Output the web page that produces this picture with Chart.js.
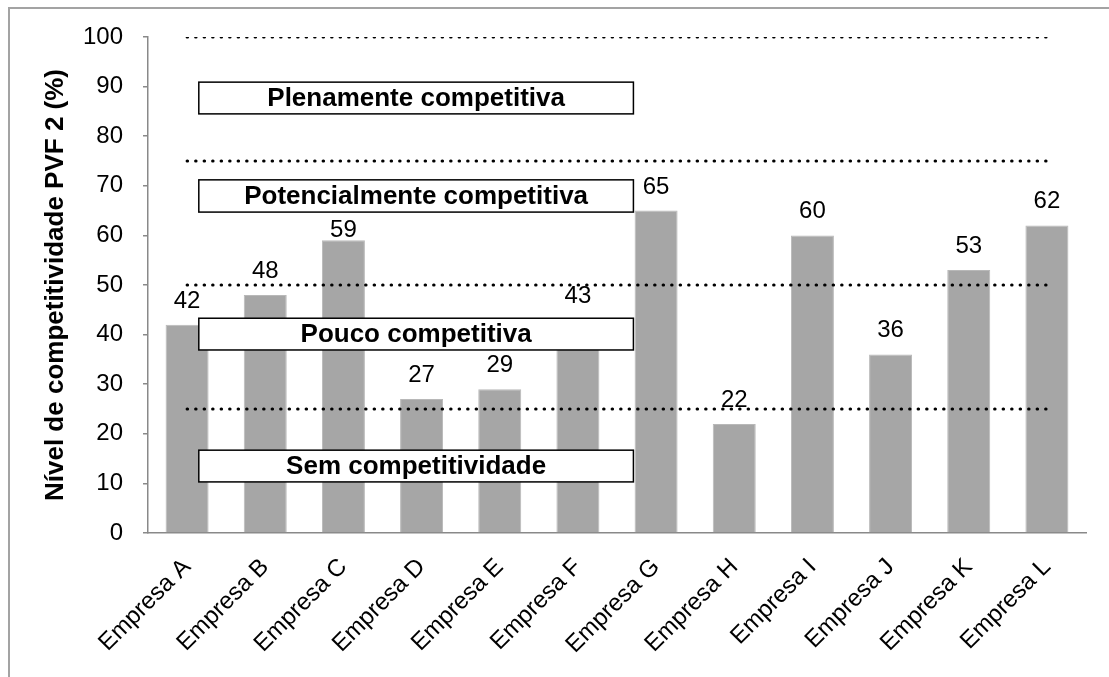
<!DOCTYPE html>
<html>
<head>
<meta charset="utf-8">
<script src="https://cdn.jsdelivr.net/npm/chart.js@4/dist/chart.umd.min.js"></script>
<style>
  html, body { margin: 0; padding: 0; background: #fff; overflow: hidden; }
  .wrap { position: relative; width: 1109px; height: 677px; }
  .frame { position: absolute; left: 8px; top: 7px; right: -20px; bottom: -20px;
           border-left: 2px solid #a3a3a3; border-top: 2px solid #a3a3a3; }
  canvas { position: absolute; left: 0; top: 0; }
</style>
</head>
<body>
<div class="wrap">
  <div class="frame"></div>
  <canvas class="js-graph" width="1109" height="677"></canvas>
</div>
<script>
{
    const empresas = ['Empresa A', 'Empresa B', 'Empresa C', 'Empresa D', 'Empresa E', 'Empresa F',
                      'Empresa G', 'Empresa H', 'Empresa I', 'Empresa J', 'Empresa K', 'Empresa L'];
    const nivel = [42, 48, 59, 27, 29, 43, 65, 22, 60, 36, 53, 62];
    const limites = [25, 50, 75, 100];
    const faixas = ['Sem competitividade', 'Pouco competitiva', 'Potencialmente competitiva', 'Plenamente competitiva'];

    const font_base = 'Liberation Sans, Arial, sans-serif';

    // caixas de texto das faixas, em unidades do gráfico (índice da categoria, %)
    const caixas_faixas = {
        id: 'caixas_faixas',
        afterDatasetsDraw(chart, args, opts) {
            const { ctx, scales: { x, y } } = chart;
            const step = x.getPixelForValue(1) - x.getPixelForValue(0);
            const px = (i) => x.getPixelForValue(0) + i * step;
            const rects = [];

            ctx.save();
            faixas.forEach((texto, k) => {
                const [y0, y1] = opts.alturas[k];
                const left = px(opts.de), right = px(opts.ate);
                const top = y.getPixelForValue(y1), bottom = y.getPixelForValue(y0);
                ctx.fillStyle = '#fff';
                ctx.fillRect(left, top, right - left, bottom - top);
                ctx.strokeStyle = '#000';
                ctx.lineWidth = 1.5;
                ctx.strokeRect(left, top, right - left, bottom - top);
                ctx.fillStyle = '#000';
                ctx.font = `bold 26px ${font_base}`;
                ctx.textAlign = 'center';
                ctx.textBaseline = 'middle';
                ctx.fillText(texto, (left + right) / 2, (top + bottom) / 2 + 1);
                rects.push({ left, right, top, bottom });
            });

            // rótulos dos valores acima das barras
            const meta = chart.getDatasetMeta(chart.data.datasets.findIndex(d => d.type === 'bar'));
            ctx.font = `24px ${font_base}`;
            ctx.textAlign = 'center';
            ctx.textBaseline = 'alphabetic';
            meta.data.forEach((bar, i) => {
                const txt = String(nivel[i]);
                const w = ctx.measureText(txt).width;
                let base = bar.y - 17;
                const bate = rects.some(r => bar.x + w / 2 > r.left && bar.x - w / 2 < r.right &&
                                             base > r.top && base - 18 < r.bottom);
                if (bate) base = bar.y - 3;
                ctx.fillText(txt, bar.x, base);
            });
            ctx.restore();
        }
    };

    const linhas = limites.map((v) => ({
        type: 'line',
        data: [{ x: empresas[0], y: v }, { x: empresas[empresas.length - 1], y: v }],
        borderColor: '#000',
        borderWidth: 3,
        borderDash: [0.5, 8],
        borderCapStyle: 'round',
        pointRadius: 0,
        fill: false,
        order: 0,
    }));

    const draw_chart = () => {
        const ctx = document.querySelector('.js-graph').getContext('2d');

        new Chart(ctx, {
            type: 'bar',
            data: {
                labels: empresas,
                datasets: [
                    ...linhas,
                    {
                        type: 'bar',
                        data: nivel,
                        backgroundColor: '#a6a6a6',
                        borderColor: '#b8b8b8',
                        borderWidth: 1,
                        barPercentage: 0.55,
                        categoryPercentage: 1,
                        order: 1,
                    }
                ]
            },
            options: {
                responsive: false,
                animation: false,
                layout: { padding: { top: 37, right: 23, left: 0, bottom: 0 } },
                scales: {
                    x: {
                        offset: true,
                        grid: { display: false },
                        border: { display: true, color: '#898989', width: 1.5 },
                        ticks: {
                            color: '#000',
                            font: { family: font_base, size: 24 },
                            minRotation: 45,
                            maxRotation: 45,
                            autoSkip: false,
                            padding: 12,
                        },
                        afterFit: (s) => { s.height = 144; },
                    },
                    y: {
                        min: 0,
                        max: 100,
                        grid: { drawOnChartArea: false, color: '#898989', tickLength: 5, lineWidth: 1.5 },
                        border: { display: true, color: '#898989', width: 1.5 },
                        ticks: {
                            stepSize: 10,
                            color: '#000',
                            padding: 20,
                            font: { family: font_base, size: 24 },
                        },
                        title: {
                            display: true,
                            text: 'Nível de competitividade PVF 2 (%)',
                            color: '#000',
                            font: { family: font_base, size: 26, weight: 'bold' },
                            padding: { top: 40, bottom: 0 },
                        },
                        afterFit: (s) => { s.width = 148; },
                    }
                },
                plugins: {
                    legend: { display: false },
                    tooltip: { enabled: false },
                    caixas_faixas: {
                        de: 0.15,
                        ate: 5.71,
                        alturas: [[10.3, 16.7], [36.9, 43.3], [64.7, 71.2], [84.5, 90.9]],
                    },
                }
            },
            plugins: [caixas_faixas]
        });
    };

    draw_chart();
}
</script>
</body>
</html>
